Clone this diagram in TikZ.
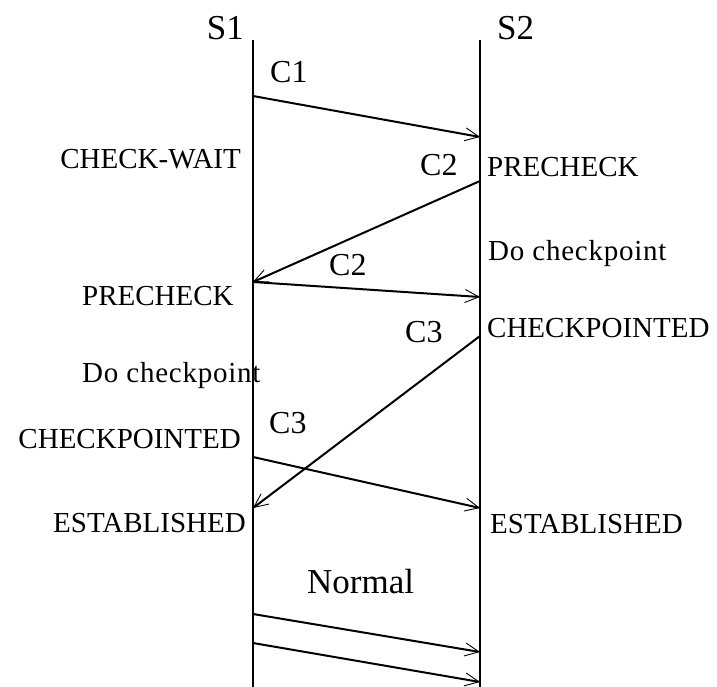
\documentclass[tikz,border=0pt]{standalone}
\usepackage{fontspec}
\setmainfont{Liberation Serif}
\usetikzlibrary{arrows.meta}

\begin{document}
\begin{tikzpicture}[x=1pt, y=-1pt,
    lifeline/.style={line width=2pt},
    msg/.style={line width=2pt, -{Straight Barb[length=14pt,width=13pt,line width=0.9pt]}},
    state/.style={font=\fontsize{29}{34}\selectfont, inner sep=0pt},
    spaced/.style={font=\fontsize{29}{34}\selectfont\addfontfeature{LetterSpace=2.6}, inner sep=0pt},
    tag/.style={font=\fontsize{32}{38}\selectfont, inner sep=0pt},
    head/.style={font=\fontsize{35}{42}\selectfont, inner sep=0pt}]
  \useasboundingbox (0,0) rectangle (717,687);

  % 两条时间线 S1、S2
  \node[head, anchor=base east] (S1) at (244,40) {S1};
  \node[head, anchor=base west] (S2) at (497,40) {S2};
  \coordinate (S1top) at (253,40);
  \coordinate (S1bot) at (253,687);
  \coordinate (S2top) at (480,40);
  \coordinate (S2bot) at (480,687);
  \draw[lifeline] (S1top)--(S1bot);
  \draw[lifeline] (S2top)--(S2bot);

  % 消息端点
  \coordinate (a1) at (253,96);   \coordinate (b1) at (480,137);
  \coordinate (b2) at (480,181);  \coordinate (a2) at (253,282);
  \coordinate (b3) at (480,297);
  \coordinate (b4) at (480,336);  \coordinate (a4) at (253,508);
  \coordinate (a5) at (253,457);  \coordinate (b5) at (480,508);
  \coordinate (a6) at (253,614);  \coordinate (b6) at (480,652);
  \coordinate (a7) at (253,643);  \coordinate (b7) at (480,682);

  \draw[msg] (a1)--(b1);
  \draw[msg] (b2)--(a2);
  \draw[msg] (a2)--(b3);
  \draw[msg] (b4)--(a4);
  \draw[msg] (a5)--(b5);
  \draw[msg] (a6)--(b6);
  \draw[msg] (a7)--(b7);

  % 消息标签
  \node[tag, anchor=base west] (C1)  at (270,83)  {C1};
  \node[tag, anchor=base west] (C2a) at (420,176) {C2};
  \node[tag, anchor=base west] (C2b) at (329,275) {C2};
  \node[tag, anchor=base west] (C3a) at (405,342) {C3};
  \node[tag, anchor=base west] (C3b) at (269,433) {C3};
  \node[head, anchor=base west] (normal) at (307,593) {Normal};

  % S1 一侧的状态
  \node[state, anchor=base east] (s1wait)  at (241,169) {CHECK-WAIT};
  \node[state, anchor=base west] (s1pre)   at (82,305)  {PRECHECK};
  \node[spaced, anchor=base west] (s1do)   at (82,382)  {Do checkpoint};
  \node[state, anchor=base east] (s1cp)    at (241,448) {CHECKPOINTED};
  \node[state, anchor=base east] (s1est)   at (246,532) {ESTABLISHED};

  % S2 一侧的状态
  \node[state, anchor=base west] (s2pre)   at (487,177) {PRECHECK};
  \node[spaced, anchor=base west] (s2do)   at (488,260) {Do checkpoint};
  \node[state, anchor=base west] (s2cp)    at (487,337) {CHECKPOINTED};
  \node[state, anchor=base west] (s2est)   at (490,533) {ESTABLISHED};
\end{tikzpicture}
\end{document}
